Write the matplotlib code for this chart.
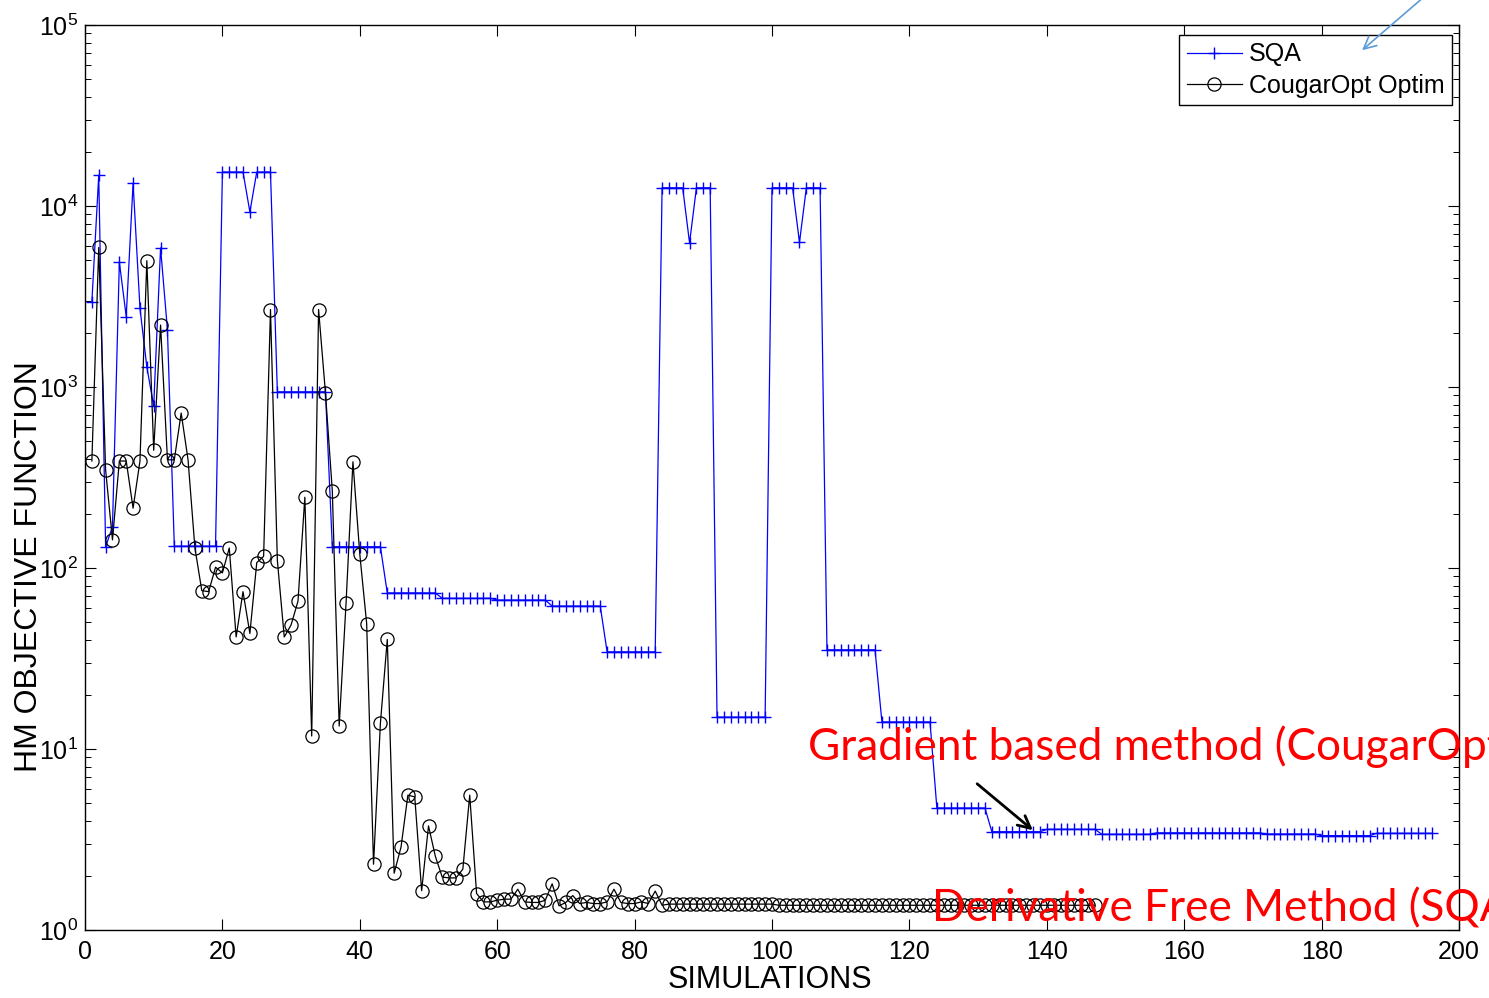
import numpy as np
import matplotlib
matplotlib.use("Agg")
import matplotlib.pyplot as plt
from matplotlib import font_manager

# ---- data -------------------------------------------------------------
sqa_values = [
    2950, 14800, 131, 169, 4900, 2450, 13400, 2730, 1290, 785, 5870, 2070,
    132, 132, 132, 132, 132, 132, 132,
    15400, 15400, 15400, 15400, 9270, 15400, 15400, 15400,
    940, 940, 940, 940, 940, 940, 940, 940,
    131, 131, 131, 131, 131, 131, 131, 131,
    72.8, 72.8, 72.8, 72.8, 72.8, 72.8, 72.8, 72.8,
    68.0, 68.0, 68.0, 68.0, 68.0, 68.0, 68.0, 68.0,
    66.5, 66.5, 66.5, 66.5, 66.5, 66.5, 66.5, 66.5,
    61.6, 61.6, 61.6, 61.6, 61.6, 61.6, 61.6, 61.6,
    34.4, 34.4, 34.4, 34.4, 34.4, 34.4, 34.4, 34.4,
    12600, 12600, 12600, 12600, 6250, 12600, 12600, 12600,
    15.0, 15.0, 15.0, 15.0, 15.0, 15.0, 15.0, 15.0,
    12600, 12600, 12600, 12600, 6300, 12600, 12600, 12600,
    35.3, 35.3, 35.3, 35.3, 35.3, 35.3, 35.3, 35.3,
    14.1, 14.1, 14.1, 14.1, 14.1, 14.1, 14.1, 14.1,
    4.72, 4.72, 4.72, 4.72, 4.72, 4.72, 4.72, 4.72,
    3.49, 3.49, 3.49, 3.49, 3.49, 3.49, 3.49, 3.49,
    3.60, 3.60, 3.60, 3.60, 3.60, 3.60, 3.60, 3.60,
    3.38, 3.38, 3.38, 3.38, 3.38, 3.38, 3.38, 3.38,
    3.44, 3.44, 3.44, 3.44, 3.44, 3.44, 3.44, 3.44,
    3.44, 3.44, 3.44, 3.44, 3.44, 3.44, 3.44, 3.44,
    3.39, 3.39, 3.39, 3.39, 3.39, 3.39, 3.39, 3.39,
    3.32, 3.32, 3.32, 3.32, 3.32, 3.32, 3.32, 3.32,
    3.42, 3.42, 3.42, 3.42, 3.42, 3.42, 3.42, 3.42, 3.42,
]

cougar_values = [
    390, 5900, 348, 143, 390, 390, 214, 390, 4990, 447,
    2200, 396, 396, 718, 396, 129, 75, 74, 101, 94,
    129, 41.6, 74, 43.5, 107, 116, 2680, 110, 41.6, 48.5,
    65.5, 246, 11.8, 2680, 928, 266, 13.4, 64, 386, 119,
    49.3, 2.31, 13.9, 40.3, 2.06, 2.87, 5.56, 5.44, 1.65, 3.76,
    2.55, 1.96, 1.94, 1.94, 2.17, 5.56, 1.59, 1.43, 1.43, 1.46,
    1.48, 1.48, 1.68, 1.43, 1.42, 1.42, 1.46, 1.80, 1.36, 1.42,
    1.55, 1.40, 1.42, 1.40, 1.40, 1.43, 1.68, 1.42, 1.40, 1.40,
    1.43, 1.40, 1.64, 1.37, 1.39, 1.39, 1.39, 1.39, 1.39, 1.39,
    1.39, 1.39, 1.39, 1.39, 1.39, 1.39, 1.39, 1.39, 1.39, 1.39,
    1.37, 1.37, 1.37, 1.37, 1.37, 1.37, 1.37, 1.37, 1.37, 1.37,
    1.37, 1.37, 1.37, 1.37, 1.37, 1.37, 1.37, 1.37, 1.37, 1.37,
    1.37, 1.37, 1.37, 1.37, 1.37, 1.37, 1.37, 1.37, 1.37, 1.37,
    1.37, 1.37, 1.37, 1.37, 1.37, 1.37, 1.37, 1.37, 1.37, 1.37,
    1.37, 1.37, 1.37, 1.37, 1.37, 1.37, 1.37,
]

series_labels = ["SQA", "CougarOpt Optim"]
x_ticks = [0, 20, 40, 60, 80, 100, 120, 140, 160, 180, 200]
x_label = "SIMULATIONS"
y_label = "HM OBJECTIVE FUNCTION"
note_gradient = "Gradient based method (CougarOpt)"
note_dfree = "Derivative Free Method (SQA)"

# ---- fonts ------------------------------------------------------------
installed = {f.name for f in font_manager.fontManager.ttflist}
plt.rcParams["font.family"] = ["Liberation Sans", "DejaVu Sans"]
narrow = "Liberation Sans Narrow" if "Liberation Sans Narrow" in installed else None
note_font = "Lato" if "Lato" in installed else "DejaVu Sans"

# ---- figure -----------------------------------------------------------
W, H = 1489, 998
fig = plt.figure(figsize=(W / 100, H / 100), dpi=100)
ax = fig.add_axes([85 / W, 1 - 930 / H, (1459 - 85) / W, (930 - 25) / H])

sqa_x = np.arange(1, len(sqa_values) + 1)
cougar_x = np.arange(1, len(cougar_values) + 1)

ax.plot(sqa_x, sqa_values, color="#0000ff", lw=0.9, marker="+",
        markersize=9, markeredgewidth=1.0, label=series_labels[0])
ax.plot(cougar_x, cougar_values, color="black", lw=0.9, marker="o",
        markersize=9.5, markerfacecolor="none", markeredgewidth=0.9,
        label=series_labels[1])

ax.set_yscale("log")
ax.set_xlim(0, 200)
ax.set_ylim(1, 1e5)
ax.set_xticks(x_ticks)
ax.set_xticklabels([str(t) for t in x_ticks])

ax.tick_params(axis="both", which="major", direction="in", length=8,
               width=0.8, top=True, right=True, labelsize=18)
ax.tick_params(axis="y", which="minor", direction="in", length=4.5,
               width=0.7, left=True, right=True)
ax.tick_params(axis="x", which="major", pad=7)
ax.tick_params(axis="y", which="major", pad=5)
for s in ax.spines.values():
    s.set_linewidth(1.0)

# axis titles
fig.text(770 / W, 1 - 980 / H, x_label, ha="center", va="center",
         fontsize=22)
if narrow:
    fig.text(30 / W, 1 - 567 / H, y_label, ha="center", va="center",
             rotation=90, fontsize=28, family=[narrow, "DejaVu Sans"])
else:
    fig.text(29 / W, 1 - 567 / H, y_label, ha="center", va="center",
             rotation=90, fontsize=23)

# legend
leg = ax.legend(loc="upper right", bbox_to_anchor=(0.995, 0.989),
                borderaxespad=0, fontsize=18, frameon=True, fancybox=False,
                edgecolor="black", framealpha=1, handlelength=2.2,
                handletextpad=0.3, labelspacing=0.3, borderpad=0.3)
leg.get_frame().set_linewidth(1.0)

# red notes
fig.text(808 / W, 1 - 760 / H, note_gradient, color="#ff0000",
         fontsize=31.8, family=[note_font, "DejaVu Sans"], ha="left",
         va="baseline")
fig.text(932 / W, 1 - 921 / H, note_dfree, color="#ff0000",
         fontsize=31.8, family=[note_font, "DejaVu Sans"], ha="left",
         va="baseline")

# arrows
fig.add_artist(matplotlib.patches.FancyArrowPatch(
    (975 / W, 1 - 782 / H), (1035 / W, 1 - 832 / H),
    transform=fig.transFigure, arrowstyle="->", mutation_scale=22,
    lw=2.0, color="black"))
fig.add_artist(matplotlib.patches.FancyArrowPatch(
    (1425 / W, 1 + 4 / H), (1360 / W, 1 - 52 / H),
    transform=fig.transFigure, arrowstyle="->", mutation_scale=22,
    lw=1.2, color="#5b9bd5"))

fig.savefig("out.png", dpi=100)
